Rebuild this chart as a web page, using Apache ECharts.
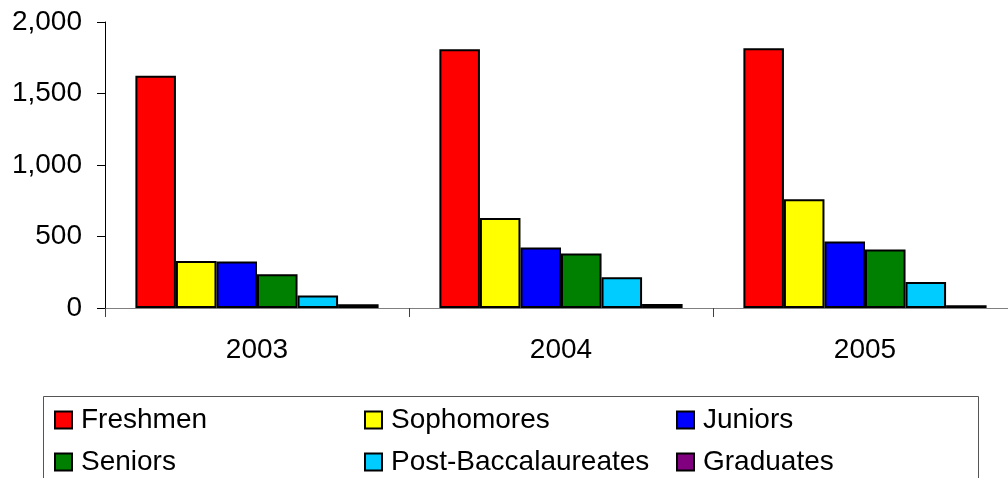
<!DOCTYPE html>
<html>
<head>
<meta charset="utf-8">
<script src="https://cdn.jsdelivr.net/npm/echarts@6/dist/echarts.min.js"></script>
<style>
html,body{margin:0;padding:0;background:#fff;overflow:hidden;width:1008px;height:478px;}
#c{width:1017px;height:478px;}
</style>
</head>
<body>
<div id="c"></div>
<script>
const categories = ['2003', '2004', '2005'];
const seriesNames = ['Freshmen', 'Sophomores', 'Juniors', 'Seniors', 'Post-Baccalaureates', 'Graduates'];
const freshmen = [1625, 1809, 1816];
const sophomores = [329, 630, 761];
const juniors = [325, 423, 465];
const seniors = [236, 381, 409];
const postBacc = [87, 215, 182];
const graduates = [26, 28, 19];
const yTicks = [0, 500, 1000, 1500, 2000];

const values = [freshmen, sophomores, juniors, seniors, postBacc, graduates];
const colors = ['#FF0000', '#FFFF00', '#0000FF', '#008000', '#00CCFF', '#800080'];

const font = '"Liberation Sans", Arial, sans-serif';
const chart = echarts.init(document.getElementById('c'));

const legendPos = [
  [54, 406], [364, 406], [676, 406],
  [54, 448], [364, 448], [676, 448]
];

chart.setOption({
  animation: false,
  grid: { left: 105, top: 22, bottom: 170, right: 0, containLabel: false },
  xAxis: {
    type: 'category',
    data: categories,
    axisLine: { lineStyle: { color: '#808080', width: 1 } },
    axisTick: { show: true, length: 9, lineStyle: { color: '#404040' } },
    axisLabel: { color: '#000', fontFamily: font, fontSize: 28, margin: 28 }
  },
  yAxis: {
    type: 'value',
    min: yTicks[0],
    max: yTicks[yTicks.length - 1],
    interval: 500,
    splitLine: { show: false },
    axisLine: { show: true, lineStyle: { color: '#000', width: 1 } },
    axisTick: { show: true, length: 8, inside: false, lineStyle: { color: '#000' } },
    axisLabel: {
      color: '#000', fontFamily: font, fontSize: 28, margin: 23,
      formatter: v => v.toLocaleString('en-US')
    }
  },
  legend: seriesNames.map((n, i) => ({
    data: [n],
    left: legendPos[i][0],
    top: legendPos[i][1],
    padding: 0,
    icon: 'rect',
    itemWidth: 17,
    itemHeight: 17,
    selectedMode: false,
    itemStyle: { borderColor: '#000', borderWidth: 2 },
    textStyle: { color: '#000', fontFamily: font, fontSize: 28, lineHeight: 28, padding: [0, 0, 0, 4] }
  })),
  graphic: [{
    type: 'rect',
    shape: { x: 43.5, y: 396.5, width: 935, height: 100 },
    style: { fill: 'none', stroke: '#555', lineWidth: 1 },
    silent: true,
    z: -1
  }],
  series: seriesNames.map((n, i) => ({
    name: n,
    type: 'bar',
    data: values[i],
    barGap: '0%',
    barCategoryGap: '20%',
    itemStyle: { color: colors[i], borderColor: '#000', borderWidth: 2 }
  }))
});
</script>
</body>
</html>
